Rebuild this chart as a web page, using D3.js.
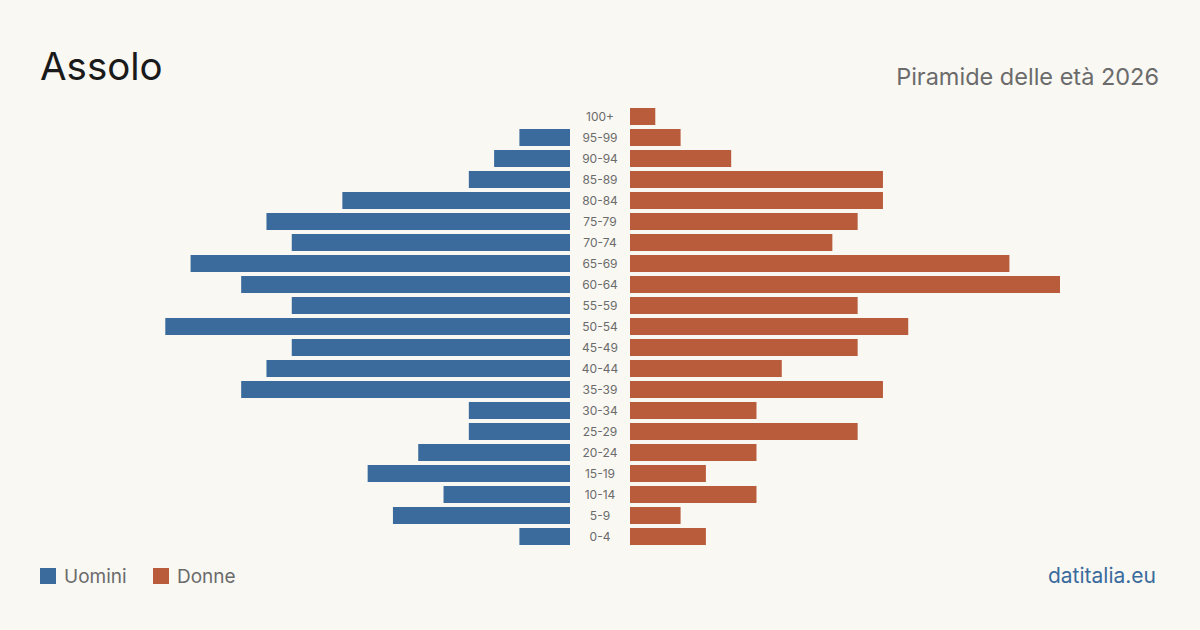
<!DOCTYPE html>
<html>
<head>
<meta charset="utf-8">
<script src="https://cdn.jsdelivr.net/npm/d3@7"></script>
<style>
  body { margin: 0; background: #f9f8f3; }
  svg { display: block; font-family: Inter, "Noto Sans", sans-serif; }
</style>
</head>
<body>
<div class="chart"></div>
<script>
// age classes, top to bottom
var ageGroups = ["100+", "95-99", "90-94", "85-89", "80-84", "75-79", "70-74", "65-69", "60-64", "55-59",
  "50-54", "45-49", "40-44", "35-39", "30-34", "25-29", "20-24", "15-19", "10-14", "5-9", "0-4"];
var men = [0, 2, 3, 4, 9, 12, 11, 15, 13, 11, 16, 11, 12, 13, 4, 4, 6, 8, 5, 7, 2];
var women = [1, 2, 4, 10, 10, 9, 8, 15, 17, 9, 11, 9, 6, 10, 5, 9, 5, 3, 5, 2, 3];

var width = 1200, height = 630;
var center = 600, gap = 30, half = 430;

var svg = d3.select(".chart").append("svg")
    .attr("width", width)
    .attr("height", height);

svg.append("rect").attr("width", width).attr("height", height).attr("fill", "#f9f8f3");

var y = d3.scaleBand()
    .domain(ageGroups)
    .range([106, 547])
    .paddingInner(0.19)
    .paddingOuter(0.095);

var x = d3.scaleLinear()
    .domain([0, d3.max(men.concat(women))])
    .range([0, half]);

// men on the left
svg.selectAll("rect.men")
    .data(ageGroups)
    .enter().append("rect")
    .attr("class", "men")
    .attr("fill", "#3a6b9c")
    .attr("x", function (d, i) { return center - gap - x(men[i]); })
    .attr("y", function (d) { return y(d); })
    .attr("width", function (d, i) { return x(men[i]); })
    .attr("height", y.bandwidth());

// women on the right
svg.selectAll("rect.women")
    .data(ageGroups)
    .enter().append("rect")
    .attr("class", "women")
    .attr("fill", "#b95c3b")
    .attr("x", center + gap)
    .attr("y", function (d) { return y(d); })
    .attr("width", function (d, i) { return x(women[i]); })
    .attr("height", y.bandwidth());

// age labels in the middle
svg.selectAll("text.age")
    .data(ageGroups)
    .enter().append("text")
    .attr("class", "age")
    .attr("x", center)
    .attr("y", function (d) { return y(d) + y.bandwidth() / 2; })
    .attr("dy", "0.35em")
    .attr("text-anchor", "middle")
    .attr("fill", "#6b6b6b")
    .style("font-size", "12px")
    .text(function (d) { return d; });

// title and subtitle
svg.append("text")
    .attr("x", 40).attr("y", 80)
    .attr("fill", "#1a1a1a")
    .style("font-size", "38.5px")
    .text("Assolo");

svg.append("text")
    .attr("x", 1159).attr("y", 85)
    .attr("text-anchor", "end")
    .attr("fill", "#6b6b6b")
    .style("font-size", "23.5px")
    .text("Piramide delle età 2026");

// legend
var legend = [["Uomini", "#3a6b9c", 40], ["Donne", "#b95c3b", 153]];
legend.forEach(function (l) {
    svg.append("rect")
        .attr("x", l[2]).attr("y", 568)
        .attr("width", 16).attr("height", 16)
        .attr("fill", l[1]);
    svg.append("text")
        .attr("x", l[2] + 24).attr("y", 583)
        .attr("fill", "#6b6b6b")
        .style("font-size", "19px")
        .text(l[0]);
});

svg.append("text")
    .attr("x", 1156).attr("y", 583)
    .attr("text-anchor", "end")
    .attr("fill", "#3a6b9c")
    .style("font-size", "21px")
    .text("datitalia.eu");
</script>
</body>
</html>
